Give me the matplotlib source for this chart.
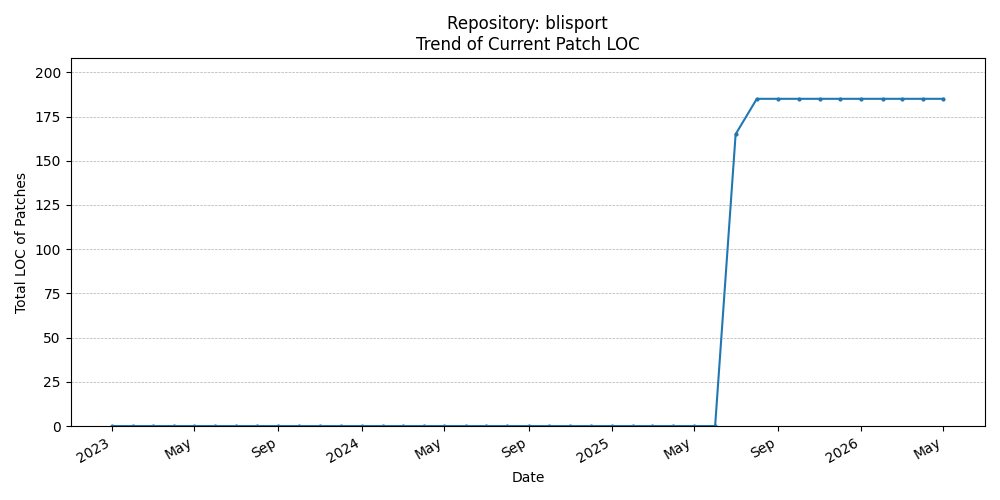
import matplotlib
matplotlib.use("Agg")
import matplotlib.pyplot as plt
import matplotlib.dates as mdates
import pandas as pd

dates = pd.date_range("2023-01-01", "2026-05-01", freq="MS")
loc_values = [0]*30 + [165] + [185]*10

fig, ax = plt.subplots(figsize=(10, 5), dpi=100)
ax.plot(dates, loc_values, marker='o', markersize=2, color='#1f77b4')
ax.set_title("Repository: blisport\nTrend of Current Patch LOC")
ax.set_xlabel("Date")
ax.set_ylabel("Total LOC of Patches")
ax.set_ylim(0, 208)
ax.grid(axis='y', linestyle='--', linewidth=0.5)
ax.xaxis.set_major_locator(mdates.MonthLocator(bymonth=[1, 5, 9]))
ax.xaxis.set_major_formatter(mdates.ConciseDateFormatter(ax.xaxis.get_major_locator()))
fig.autofmt_xdate()
fig.tight_layout()
fig.savefig("out.png")
